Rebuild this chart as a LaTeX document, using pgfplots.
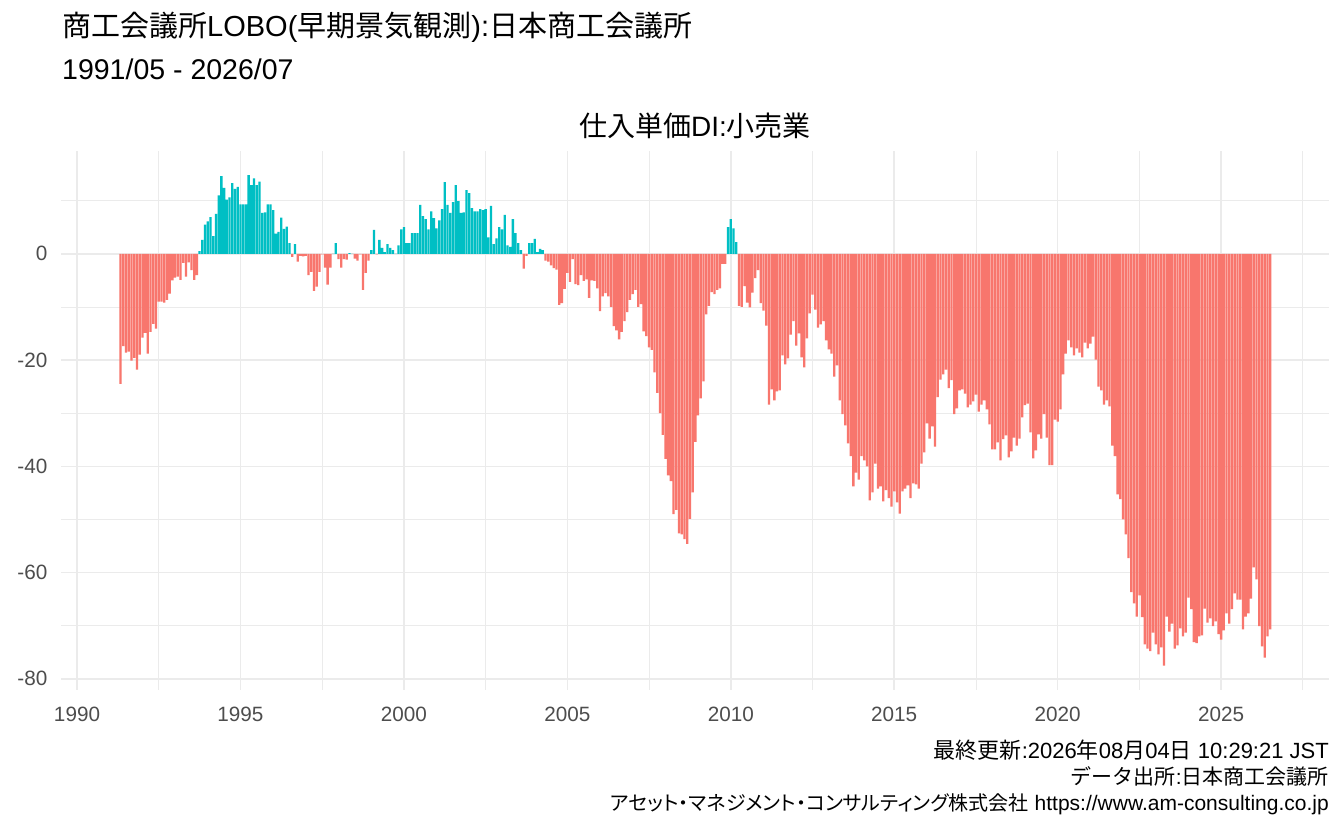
\documentclass[border=0pt]{standalone}
\usepackage{pgfplots}
\pgfplotsset{compat=1.18}
\usepackage{pgfplotstable}
\usepackage{fontspec}
\setmainfont{Liberation Sans}
\newfontfamily\jp{Noto Sans CJK JP}
\newfontfamily\jpp[RawFeature=+palt]{Noto Sans CJK JP}
\definecolor{neg}{HTML}{F8766D}
\definecolor{pos}{HTML}{00BFC4}
\definecolor{gridc}{HTML}{EBEBEB}
\definecolor{axtext}{HTML}{4D4D4D}

% monthly values, 1991/05 ... 2026/07
\pgfplotstableread[row sep=\\]{
y\\
-24.5\\ -17.4\\ -18.6\\ -18.4\\ -20.1\\ -19.6\\ -21.8\\ -19.0\\ -15.8\\ -14.9\\
-18.8\\ -14.7\\ -13.2\\ -14.1\\ -9.0\\ -9.0\\ -9.2\\ -8.7\\ -7.5\\ -5.0\\
-4.5\\ -4.3\\ -4.9\\ -1.7\\ -4.3\\ -1.6\\ -3.1\\ -4.9\\ -4.0\\ 0.5\\
2.6\\ 5.5\\ 6.1\\ 6.9\\ 3.3\\ 7.5\\ 11.0\\ 14.6\\ 12.4\\ 10.2\\
10.6\\ 13.3\\ 12.2\\ 12.6\\ 9.3\\ 9.3\\ 9.3\\ 14.8\\ 12.9\\ 14.2\\
12.9\\ 13.6\\ 7.7\\ 7.8\\ 9.3\\ 9.3\\ 8.2\\ 3.8\\ 4.1\\ 6.8\\
4.7\\ 5.1\\ 2.0\\ -0.6\\ 1.8\\ -1.5\\ -0.4\\ -0.5\\ -0.4\\ -4.0\\
-3.4\\ -7.0\\ -6.2\\ -3.4\\ -0.1\\ -2.6\\ -5.8\\ -2.6\\ 0\\ 2.0\\
-1.0\\ -2.6\\ -1.0\\ -1.1\\ 0.1\\ 0\\ -0.9\\ -1.3\\ -0.1\\ -6.8\\
-3.6\\ -1.3\\ 0.7\\ 4.5\\ -0.1\\ 2.6\\ 1.1\\ 0.3\\ 1.8\\ 1.1\\
0.7\\ 0\\ 1.6\\ 4.6\\ 5.0\\ 2.0\\ 2.0\\ 3.9\\ 3.9\\ 3.9\\
9.2\\ 7.1\\ 6.5\\ 4.6\\ 8.0\\ 6.7\\ 4.8\\ 6.3\\ 8.4\\ 13.5\\
9.2\\ 7.7\\ 9.7\\ 12.9\\ 9.9\\ 7.7\\ 7.8\\ 12.0\\ 11.4\\ 8.6\\
8.0\\ 8.0\\ 8.4\\ 8.2\\ 8.4\\ 3.1\\ 9.0\\ 1.8\\ 2.9\\ 5.0\\
4.6\\ 7.3\\ 1.6\\ 1.3\\ 6.5\\ 3.9\\ 2.0\\ 0.7\\ -2.8\\ -0.4\\
2.0\\ 2.0\\ 2.8\\ 0.3\\ 0.9\\ 0.7\\ -1.3\\ -1.5\\ -2.2\\ -2.7\\
-3.0\\ -9.6\\ -9.3\\ -6.6\\ -3.6\\ -5.3\\ -1.0\\ -5.7\\ -5.9\\ -4.0\\
-5.1\\ -4.8\\ -8.3\\ -5.0\\ -5.1\\ -6.5\\ -10.8\\ -8.0\\ -7.4\\ -8.0\\
-10.0\\ -13.6\\ -14.4\\ -16.1\\ -14.7\\ -12.7\\ -11.0\\ -8.7\\ -7.6\\ -6.8\\
-10.0\\ -9.5\\ -14.6\\ -15.5\\ -17.6\\ -18.1\\ -22.3\\ -26.2\\ -30.0\\ -34.1\\
-38.6\\ -41.7\\ -42.8\\ -49.0\\ -48.2\\ -52.6\\ -52.8\\ -53.7\\ -54.6\\ -49.9\\
-44.9\\ -35.4\\ -30.4\\ -27.2\\ -24.0\\ -11.4\\ -9.8\\ -7.2\\ -7.6\\ -6.8\\
-6.5\\ -1.9\\ -1.9\\ 5.0\\ 6.5\\ 4.8\\ 2.2\\ -9.8\\ -10.0\\ -6.1\\
-9.2\\ -10.1\\ -7.3\\ -4.6\\ -3.1\\ -9.3\\ -10.7\\ -13.5\\ -28.4\\ -25.5\\
-27.6\\ -25.9\\ -25.7\\ -19.1\\ -20.8\\ -19.7\\ -15.2\\ -12.7\\ -17.3\\ -15.0\\
-19.5\\ -21.4\\ -15.9\\ -11.2\\ -7.7\\ -10.5\\ -13.9\\ -13.3\\ -12.7\\ -16.3\\
-18.0\\ -18.8\\ -23.1\\ -21.0\\ -27.6\\ -30.2\\ -32.3\\ -35.7\\ -38.1\\ -43.8\\
-41.2\\ -42.5\\ -38.1\\ -38.9\\ -40.0\\ -46.4\\ -44.9\\ -39.5\\ -44.2\\ -43.8\\
-46.6\\ -44.5\\ -46.0\\ -47.6\\ -44.7\\ -46.8\\ -48.9\\ -44.7\\ -44.2\\ -43.6\\
-46.0\\ -43.2\\ -43.4\\ -44.2\\ -39.5\\ -37.4\\ -31.9\\ -34.8\\ -32.5\\ -36.3\\
-27.0\\ -23.7\\ -22.7\\ -21.8\\ -25.3\\ -23.8\\ -30.2\\ -29.1\\ -25.7\\ -25.5\\
-26.3\\ -28.9\\ -28.4\\ -27.8\\ -26.5\\ -29.7\\ -28.4\\ -27.6\\ -29.3\\ -32.1\\
-36.8\\ -36.8\\ -35.5\\ -38.9\\ -34.9\\ -34.2\\ -38.3\\ -37.2\\ -34.6\\ -36.1\\
-34.8\\ -30.8\\ -28.5\\ -28.2\\ -33.6\\ -38.5\\ -37.0\\ -34.0\\ -34.8\\ -30.2\\
-34.6\\ -39.8\\ -39.8\\ -31.2\\ -31.6\\ -29.3\\ -22.7\\ -18.8\\ -16.3\\ -17.6\\
-19.1\\ -17.8\\ -18.6\\ -19.5\\ -16.7\\ -17.8\\ -16.9\\ -15.6\\ -19.9\\ -25.0\\
-25.7\\ -28.4\\ -27.6\\ -28.7\\ -36.1\\ -38.1\\ -45.3\\ -46.2\\ -50.0\\ -52.8\\
-57.3\\ -63.7\\ -65.8\\ -68.3\\ -64.3\\ -68.4\\ -73.5\\ -74.3\\ -74.8\\ -71.3\\
-73.5\\ -75.4\\ -74.1\\ -77.5\\ -68.3\\ -71.1\\ -69.6\\ -74.3\\ -73.7\\ -70.5\\
-72.0\\ -71.3\\ -64.7\\ -66.9\\ -73.1\\ -73.3\\ -72.0\\ -71.8\\ -66.8\\ -69.4\\
-68.6\\ -70.1\\ -69.2\\ -71.6\\ -72.6\\ -70.9\\ -67.7\\ -69.6\\ -66.9\\ -63.9\\
-65.1\\ -65.1\\ -70.7\\ -68.3\\ -67.7\\ -64.9\\ -59.0\\ -61.3\\ -70.1\\ -73.9\\
-76.0\\ -72.0\\ -70.7\\
}\lobodata

\begin{document}
\begin{tikzpicture}
\path[use as bounding box, fill=white] (0bp,0bp) rectangle (1344bp,830bp);
\begin{axis}[
  at={(61bp,140bp)}, anchor=south west,
  scale only axis, width=1268bp, height=539.3bp,
  xmin=1989.51, xmax=2028.3, ymin=-82.1, ymax=19.4,
  axis line style={draw=none},
  major tick length=0pt, minor tick length=0pt,
  xtick={1990,1995,2000,2005,2010,2015,2020,2025},
  xticklabels={1990,1995,2000,2005,2010,2015,2020,2025},
  minor xtick={1992.5,1997.5,2002.5,2007.5,2012.5,2017.5,2022.5,2027.5},
  ytick={-80,-60,-40,-20,0},
  yticklabels={-80,-60,-40,-20,0},
  minor ytick={-70,-50,-30,-10,10},
  xmajorgrids, ymajorgrids, xminorgrids, yminorgrids,
  major grid style={draw=gridc, line width=1.6bp},
  minor grid style={draw=gridc, line width=0.8bp},
  tick label style={font=\fontsize{20.7bp}{24bp}\selectfont, text=axtext},
  xticklabel style={inner sep=0pt, anchor=north, yshift=-17bp},
  yticklabel style={inner sep=0pt, anchor=east, xshift=-13.5bp},
  clip=false,
]
\addplot[ybar, bar width=0.07, bar shift=0pt, fill=neg, draw=none,
  restrict y to domain=-100:0]
  table[x expr=1991.3333+\coordindex/12, y=y] {\lobodata};
\addplot[ybar, bar width=0.07, bar shift=0pt, fill=pos, draw=none,
  restrict y to domain=0:100]
  table[x expr=1991.3333+\coordindex/12, y=y] {\lobodata};
\end{axis}
\node[anchor=base west, inner sep=0pt] at (62bp,793bp)
  {\fontsize{29bp}{32bp}\selectfont {\jp 商工会議所}LOBO({\jp 早期景気観測}):{\jp 日本商工会議所}};
\node[anchor=base west, inner sep=0pt] at (62bp,750bp)
  {\fontsize{28.5bp}{32bp}\selectfont 1991/05 - 2026/07};
\node[anchor=base, inner sep=0pt] at (695bp,693bp)
  {\fontsize{28bp}{32bp}\selectfont {\jp 仕入単価}DI:{\jp 小売業}};
\node[anchor=base east, inner sep=0pt] at (1329bp,71bp)
  {\fontsize{22bp}{24bp}\selectfont {\jp 最終更新}:2026{\jp 年}08{\jp 月}04{\jp 日} 10:29:21 JST};
\node[anchor=base east, inner sep=0pt] at (1329bp,45bp)
  {\fontsize{21bp}{24bp}\selectfont {\jp データ出所}:{\jp 日本商工会議所}};
\node[anchor=base east, inner sep=0pt] at (1329bp,20bp)
  {\fontsize{21bp}{24bp}\selectfont {\fontsize{20bp}{24bp}\selectfont\jpp アセット・マネジメント・コンサルティング株式会社} https://www.am-consulting.co.jp};
\end{tikzpicture}
\end{document}
